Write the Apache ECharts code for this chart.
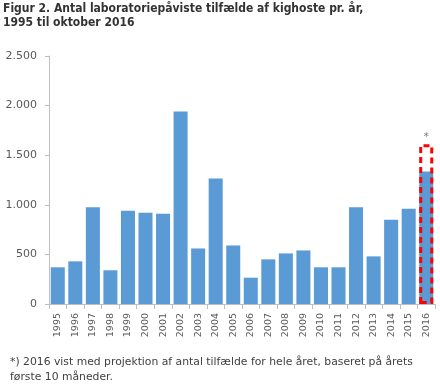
<!DOCTYPE html>
<html><head><meta charset="utf-8">
<script src="https://cdn.jsdelivr.net/npm/echarts@6/dist/echarts.min.js"></script>
<style>html,body{margin:0;padding:0;background:#fff}#c{width:440px;height:386px}</style>
</head><body><div id="c"></div>
<script>
const years = ['1995','1996','1997','1998','1999','2000','2001','2002','2003','2004','2005','2006','2007','2008','2009','2010','2011','2012','2013','2014','2015','2016'];
const cases = [370,430,975,340,940,920,910,1940,560,1265,590,265,450,510,540,370,370,975,480,850,960,1335];
const projection = [null,null,null,null,null,null,null,null,null,null,null,null,null,null,null,null,null,null,null,null,null,1610];
const yTicks = [0,500,1000,1500,2000,2500];
const titleText = 'Figur 2. Antal laboratoriepåviste tilfælde af kighoste pr. år,\n1995 til oktober 2016';
const footText = '*) 2016 vist med projektion af antal tilfælde for hele året, baseret på årets\nførste 10 måneder.';

const chart = echarts.init(document.getElementById('c'), null, {renderer:'canvas'});
chart.setOption({
  animation:false,
  title:[{
    text:titleText, left:3, top:2, padding:0,
    textStyle:{fontFamily:'DejaVu Sans Condensed, DejaVu Sans', fontWeight:'bold', fontSize:12, color:'#333', lineHeight:14}
  },{
    text:footText, left:10, top:355, padding:0,
    textStyle:{fontFamily:'DejaVu Sans', fontWeight:'normal', fontSize:10.8, color:'#404040', lineHeight:15}
  }],
  grid:{left:49, right:5, top:56, bottom:82},
  xAxis:{
    type:'category', data:years,
    axisLine:{lineStyle:{color:'#bfbfbf'}},
    axisTick:{show:true, alignWithLabel:false, length:5, lineStyle:{color:'#bfbfbf'}},
    axisLabel:{rotate:90, interval:0, fontFamily:'DejaVu Sans', fontSize:9.5, color:'#595959', margin:9}
  },
  yAxis:{
    type:'value', min:0, max:2500, interval:500,
    axisLine:{show:true, lineStyle:{color:'#bfbfbf'}},
    axisTick:{show:true, length:4, lineStyle:{color:'#bfbfbf'}},
    splitLine:{show:false},
    axisLabel:{fontFamily:'DejaVu Sans', fontSize:11, color:'#595959', margin:12,
      formatter:v=> yTicks.includes(v) ? v.toLocaleString('de-DE') : ''}
  },
  series:[{
    type:'bar', data:cases, barCategoryGap:'20%',
    itemStyle:{color:'#5b9bd5'}
  },{
    type:'bar', data:projection, barGap:'-100%', barCategoryGap:'20%', z:3,
    itemStyle:{color:'rgba(0,0,0,0)', borderColor:'#ff0000', borderWidth:3, borderType:[6,4]},
    label:{show:true, position:'top', formatter:'*', color:'#7f7f7f', fontFamily:'DejaVu Sans', fontSize:11, distance:2}
  }]
});
</script></body></html>
